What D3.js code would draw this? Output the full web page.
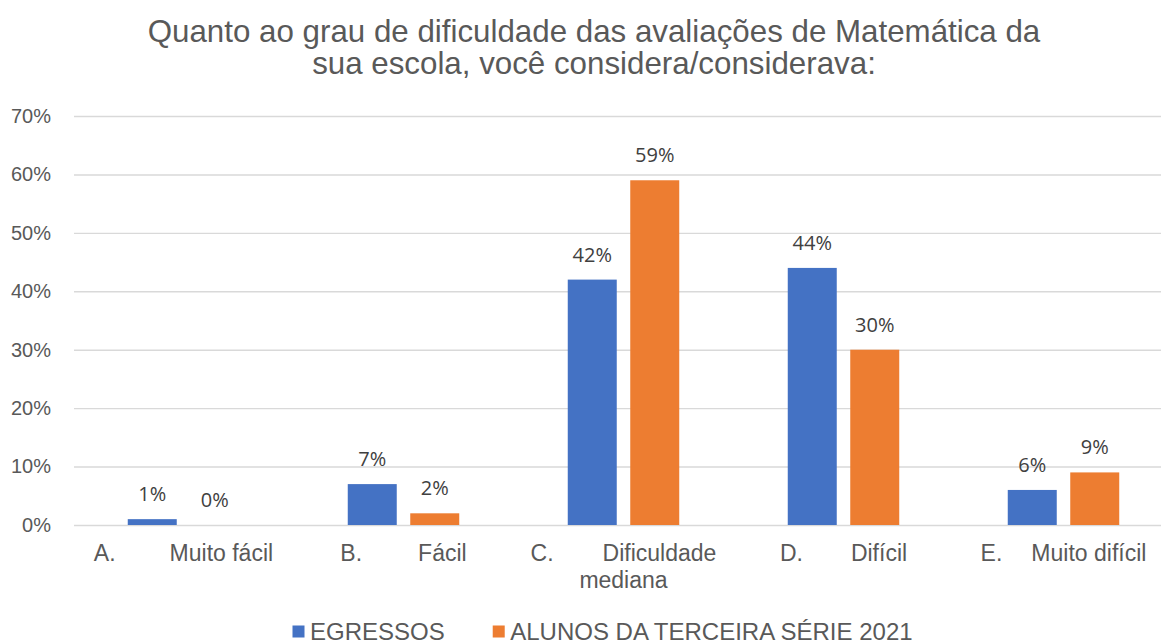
<!DOCTYPE html>
<html>
<head>
<meta charset="utf-8">
<script src="https://cdn.jsdelivr.net/npm/d3@7"></script>
<style>
	html, body { margin: 0; padding: 0; background: #ffffff; }
	svg { display: block; }
	.axis text { font-family: "Liberation Sans", Arial, sans-serif; fill: #595959; }
</style>
</head>
<body>
<div id="chart"></div>
<script>
// Chart data
const titleLines = ["Quanto ao grau de dificuldade das avaliações de Matemática da", "sua escola, você considera/considerava:"];
const categoryLetters = ["A.", "B.", "C.", "D.", "E."];
const categoryNames = ["Muito fácil", "Fácil", "Dificuldade mediana", "Difícil", "Muito difícil"];
const seriesNames = ["EGRESSOS", "ALUNOS DA TERCEIRA SÉRIE 2021"];
const egressosValues = [0.01, 0.07, 0.42, 0.44, 0.06];
const alunos2021Values = [0.00, 0.02, 0.59, 0.30, 0.09];
const yTickValues = [0, 0.1, 0.2, 0.3, 0.4, 0.5, 0.6, 0.7];

const seriesColors = ["#4472C4", "#ED7D31"];
const seriesValues = [egressosValues, alunos2021Values];

function drawChart(containerId, chartWidth, chartHeight) {
	const $container = d3.select(`#${containerId}`);
	$container.html('');

	const $svg = $container.append("svg")
		.attr("width", chartWidth)
		.attr("height", chartHeight);

	// plot area (right edge runs past the picture, like the source)
	const plot = { left: 73.5, right: 1173.5, top: 116, bottom: 525 };

	// Title, one centred line each
	$svg.append("g")
		.selectAll("text")
		.data(titleLines)
		.enter()
		.append("text")
		.attr("x", 594)
		.attr("y", (d, i) => 42 + i * 32)
		.attr("text-anchor", "middle")
		.attr("font-family", "Liberation Sans, Arial, sans-serif")
		.attr("font-size", 31.3)
		.attr("fill", "#595959")
		.text(d => d);

	// Scales
	const x0 = d3.scaleBand()
		.domain(categoryNames)
		.range([plot.left, plot.right])
		.paddingInner(0.4932)
		.paddingOuter(0.2466);

	const x1 = d3.scaleBand()
		.domain(seriesNames)
		.range([0, x0.bandwidth()])
		.paddingInner(0.216);

	const yScale = d3.scaleLinear()
		.domain([0, 0.7])
		.range([plot.bottom, plot.top]);

	// y axis with gridlines
	const yAxisGenerator = d3.axisLeft(yScale)
		.tickValues(yTickValues)
		.tickFormat(d3.format(".0%"))
		.tickSize(-(chartWidth - 74))
		.tickPadding(23);

	const $yAxis = $svg.append("g")
		.attr("class", "axis axis--y")
		.attr("transform", "translate(74,0)")
		.call(yAxisGenerator);

	$yAxis.select(".domain").remove();
	$yAxis.selectAll("line")
		.attr("stroke", "#d9d9d9")
		.attr("stroke-width", 1.4);
	$yAxis.selectAll("text")
		.attr("font-size", 20);

	// Bars
	const $groups = $svg.append("g")
		.selectAll("g")
		.data(categoryNames)
		.enter()
		.append("g")
		.attr("transform", d => `translate(${x0(d)},0)`);

	const barData = (name, i) => seriesNames.map((s, j) => ({
		series: s, value: seriesValues[j][i], color: seriesColors[j]
	}));

	$groups.selectAll("rect")
		.data(barData)
		.enter()
		.append("rect")
		.attr("x", d => x1(d.series))
		.attr("y", d => yScale(d.value))
		.attr("width", x1.bandwidth())
		.attr("height", d => yScale(0) - yScale(d.value))
		.attr("fill", d => d.color);

	// Data labels
	$groups.selectAll("text.value")
		.data(barData)
		.enter()
		.append("text")
		.attr("class", "value")
		.attr("x", d => x1(d.series) + x1.bandwidth() / 2)
		.attr("y", d => yScale(d.value) - 18)
		.attr("text-anchor", "middle")
		.attr("font-family", "Open Sans, Segoe UI, sans-serif")
		.attr("font-size", 20)
		.attr("fill", "#404040")
		.text(d => d3.format(".0%")(d.value));

	// Category labels: "A.<tab>name", wrapped when wider than the band
	const tabGap = [54, 56, 49, 48, 29];
	const $xLabels = $svg.append("g").attr("class", "axis axis--x");
	categoryNames.forEach((name, i) => {
		const cx = x0(name) + x0.bandwidth() / 2;
		const $label = $xLabels.append("text")
			.attr("x", cx)
			.attr("y", 561)
			.attr("text-anchor", "middle")
			.attr("font-size", 23);
		$label.append("tspan").text(categoryLetters[i]);
		const $name = $label.append("tspan").attr("dx", tabGap[i]).text(name);

		const words = name.split(" ");
		let rest = [];
		while (words.length > 1 && $label.node().getComputedTextLength() > x0.step()) {
			rest.unshift(words.pop());
			$name.text(words.join(" "));
		}
		if (rest.length) {
			$xLabels.append("text")
				.attr("x", cx)
				.attr("y", 561 + 27)
				.attr("text-anchor", "middle")
				.attr("font-size", 23)
				.text(rest.join(" "));
		}
	});

	// Legend
	const $legend = $svg.append("g").attr("class", "axis legend");
	let lx = 292.5;
	seriesNames.forEach((s, j) => {
		$legend.append("rect")
			.attr("x", lx)
			.attr("y", 625.5)
			.attr("width", 12)
			.attr("height", 12)
			.attr("fill", seriesColors[j]);
		const $t = $legend.append("text")
			.attr("x", lx + 17.5)
			.attr("y", 639.5)
			.attr("font-size", 24)
			.text(s);
		lx += 17.5 + $t.node().getComputedTextLength() + 48;
	});
}

drawChart("chart", 1161, 643);
</script>
</body>
</html>
